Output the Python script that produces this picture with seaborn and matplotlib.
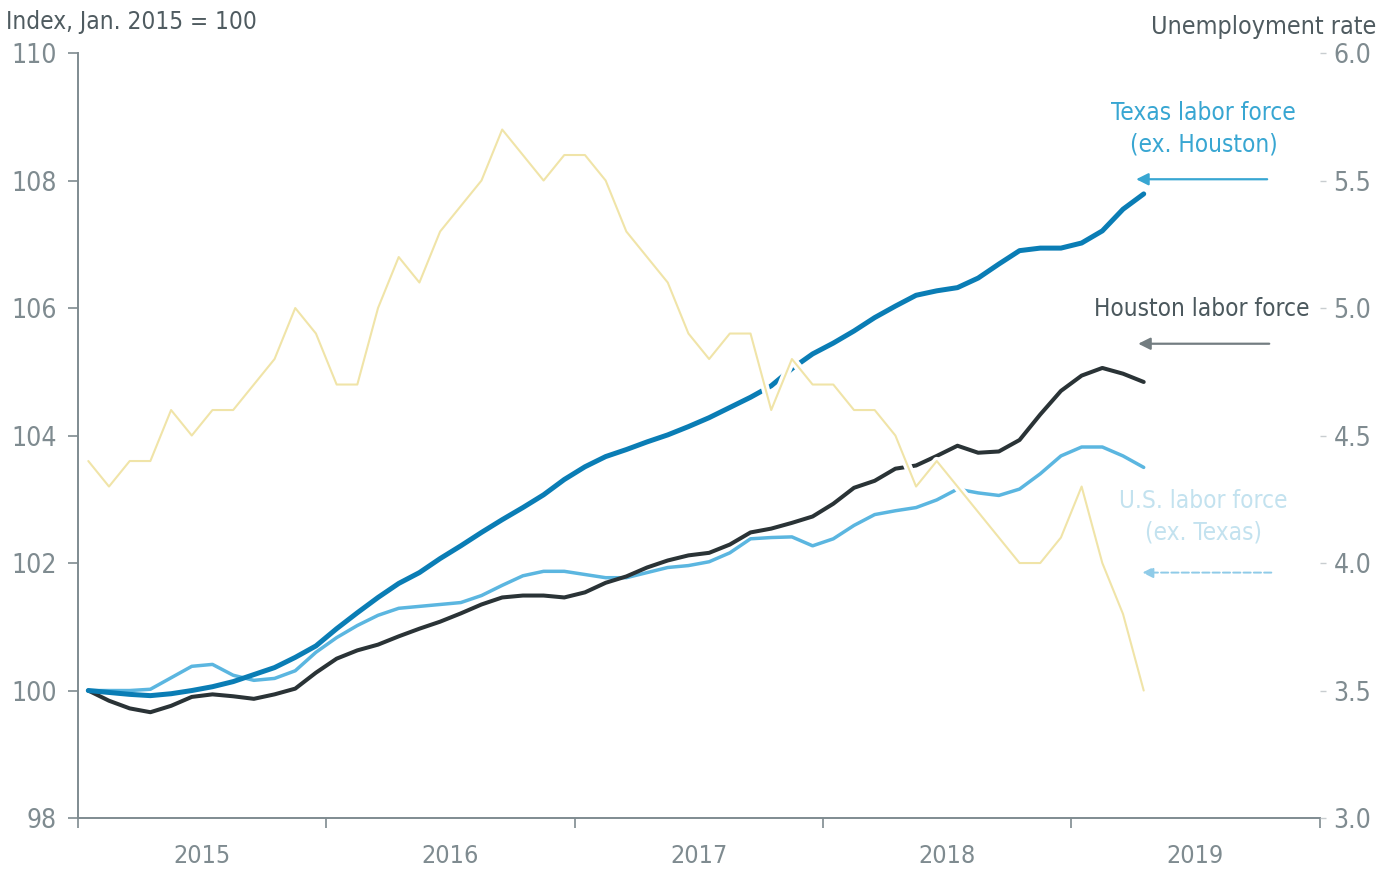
import numpy as np
import pandas as pd
import matplotlib
matplotlib.use("Agg")
import matplotlib.pyplot as plt
import matplotlib.patheffects as pe
import seaborn as sns

# dados (jan 2015 a abr 2019, mensal)
meses = pd.date_range("2015-01-01", "2019-04-01", freq="MS")

texas = [100.0, 99.97, 99.94, 99.92, 99.95, 100.0, 100.06, 100.14, 100.25, 100.36,
         100.52, 100.7, 100.97, 101.22, 101.46, 101.68, 101.85, 102.07, 102.27, 102.48,
         102.68, 102.87, 103.07, 103.31, 103.51, 103.67, 103.78, 103.9, 104.01, 104.14,
         104.28, 104.44, 104.6, 104.78, 105.05, 105.28, 105.45, 105.64, 105.85, 106.03,
         106.2, 106.27, 106.32, 106.47, 106.69, 106.9, 106.94, 106.94, 107.02, 107.21,
         107.55, 107.79]

houston = [100.0, 99.84, 99.72, 99.66, 99.76, 99.9, 99.94, 99.91, 99.87, 99.94,
           100.03, 100.28, 100.5, 100.63, 100.72, 100.85, 100.97, 101.08, 101.21, 101.35,
           101.46, 101.49, 101.49, 101.46, 101.54, 101.69, 101.79, 101.93, 102.04, 102.12,
           102.16, 102.29, 102.48, 102.54, 102.63, 102.73, 102.93, 103.18, 103.29, 103.48,
           103.53, 103.68, 103.84, 103.73, 103.75, 103.93, 104.33, 104.7, 104.94, 105.06,
           104.97, 104.84]

eua = [100.0, 100.0, 100.0, 100.02, 100.2, 100.38, 100.41, 100.24, 100.16, 100.19,
       100.31, 100.6, 100.83, 101.02, 101.18, 101.29, 101.32, 101.35, 101.38, 101.49,
       101.65, 101.8, 101.87, 101.87, 101.82, 101.77, 101.77, 101.85, 101.93, 101.96,
       102.02, 102.16, 102.38, 102.4, 102.41, 102.27, 102.38, 102.59, 102.76, 102.82,
       102.87, 102.99, 103.16, 103.1, 103.06, 103.16, 103.4, 103.68, 103.82, 103.82,
       103.68, 103.5]

desemprego = [4.4, 4.3, 4.4, 4.4, 4.6, 4.5, 4.6, 4.6, 4.7, 4.8,
              5.0, 4.9, 4.7, 4.7, 5.0, 5.2, 5.1, 5.3, 5.4, 5.5,
              5.7, 5.6, 5.5, 5.6, 5.6, 5.5, 5.3, 5.2, 5.1, 4.9,
              4.8, 4.9, 4.9, 4.6, 4.8, 4.7, 4.7, 4.6, 4.6, 4.5,
              4.3, 4.4, 4.3, 4.2, 4.1, 4.0, 4.0, 4.1, 4.3, 4.0,
              3.8, 3.5]

anos = ["2015", "2016", "2017", "2018", "2019"]
ticks_esq = [98, 100, 102, 104, 106, 108, 110]
ticks_dir = [3.0, 3.5, 4.0, 4.5, 5.0, 5.5, 6.0]

# eixo x em meses desde jan 2015 (meio do mês)
x = (meses.year - 2015) * 12 + (meses.month - 1) + 0.5
df = pd.DataFrame({"x": x, "texas": texas, "houston": houston,
                   "eua": eua, "desemprego": desemprego})

sns.set_theme(style="white")
plt.rcParams["font.family"] = ["DejaVu Sans"]
plt.rcParams["font.stretch"] = "condensed"

cinza = "#7f8b90"
fig = plt.figure(figsize=(13.92, 8.75), dpi=100)
ax = fig.add_axes([0.056, 0.0651, 0.892, 0.8743])
ax2 = ax.twinx()

# linhas de força de trabalho
sns.lineplot(data=df, x="x", y="eua", ax=ax, color="#5bb6e0", linewidth=2.5, zorder=3)
sns.lineplot(data=df, x="x", y="houston", ax=ax, color="#2a3336", linewidth=2.9, zorder=4)
sns.lineplot(data=df, x="x", y="texas", ax=ax, color="#0a7db5", linewidth=3.6, zorder=5)

# taxa de desemprego (eixo direito), com contorno branco
ax2.set_zorder(ax.get_zorder() + 1)
ax2.patch.set_visible(False)
sns.lineplot(data=df, x="x", y="desemprego", ax=ax2, color="#f0e4a8", linewidth=1.5,
             path_effects=[pe.withStroke(linewidth=6, foreground="white")])

ax.set_xlim(0, 60)
ax.set_ylim(98, 110)
ax2.set_ylim(3.0, 6.0)

ax.set_xticks(range(0, 61, 12))
ax.set_xticklabels([])
ax.set_xticks([6, 18, 30, 42, 54], minor=True)
ax.set_xticklabels(anos, minor=True)
ax.tick_params(axis="x", which="major", direction="out", length=7, width=1.2,
               color=cinza, bottom=True)
ax.tick_params(axis="x", which="minor", length=0, pad=19, labelsize=18, labelcolor=cinza)

ax.set_yticks(ticks_esq)
ax.set_yticklabels([str(t) for t in ticks_esq])
ax.tick_params(axis="y", direction="out", length=7, width=1.2, color=cinza,
               left=True, pad=8, labelsize=19, labelcolor=cinza)

ax2.set_yticks(ticks_dir)
ax2.set_yticklabels([f"{t:.1f}" for t in ticks_dir])
ax2.tick_params(axis="y", direction="out", length=4, width=1, color="#c8cdd0",
                right=True, pad=6, labelsize=19, labelcolor=cinza)

for a in (ax, ax2):
    a.set_xlabel("")
    a.set_ylabel("")
    a.grid(False)
    for s in a.spines.values():
        s.set_visible(False)
ax.spines["left"].set_visible(True)
ax.spines["bottom"].set_visible(True)
ax.spines["left"].set_color(cinza)
ax.spines["bottom"].set_color(cinza)
ax.spines["left"].set_linewidth(1.4)
ax.spines["bottom"].set_linewidth(1.4)

# títulos dos eixos
fig.text(0.004, 0.975, "Index, Jan. 2015 = 100", fontsize=17.5, color="#4f5b60",
         ha="left", va="center")
fig.text(0.989, 0.969, "Unemployment rate", fontsize=18, color="#4f5b60",
         ha="right", va="center")

# rótulos e setas
ax.text(54.4, 108.81, "Texas labor force\n(ex. Houston)", color="#38a6d2", fontsize=17.5,
        ha="center", va="center", linespacing=1.4)
ax.annotate("", xy=(51.0, 108.02), xytext=(57.6, 108.02),
            arrowprops=dict(arrowstyle="-|>", color="#38a6d2", lw=1.6, mutation_scale=18))

ax.text(54.3, 105.99, "Houston labor force", color="#4b585d", fontsize=17.5,
        ha="center", va="center")
ax.annotate("", xy=(51.1, 105.44), xytext=(57.7, 105.44),
            arrowprops=dict(arrowstyle="-|>", color="#737d81", lw=1.6, mutation_scale=18))

ax.text(54.4, 102.73, "U.S. labor force\n(ex. Texas)", color="#c3e2ef", fontsize=17.5,
        ha="center", va="center", linespacing=1.4)
ax.annotate("", xy=(51.3, 101.85), xytext=(57.8, 101.85),
            arrowprops=dict(arrowstyle="-|>", color="#8fcbe8", lw=1.4, ls="--",
                            mutation_scale=16))

fig.savefig("out.png", dpi=100)
